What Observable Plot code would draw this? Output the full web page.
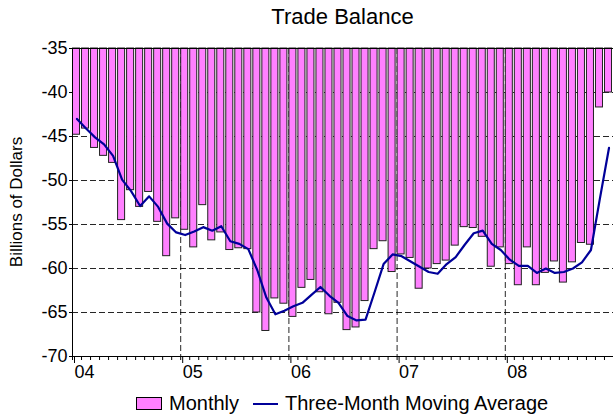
<!DOCTYPE html>
<html>
<head>
<meta charset="utf-8">
<script src="https://cdn.jsdelivr.net/npm/d3@7"></script>
<script src="https://cdn.jsdelivr.net/npm/@observablehq/plot@0.6"></script>
<style>
  html, body { margin: 0; padding: 0; background: #fff; }
  #wrap { position: relative; width: 613px; height: 416px; font-family: "Liberation Sans", Arial, sans-serif; }
  #title { position: absolute; left: 72px; width: 541px; top: 4px; text-align: center; font-size: 22px; color: #000; }
  #ylabel { position: absolute; left: 17px; top: 202px; transform: translate(-50%, -50%) rotate(-90deg); white-space: nowrap; font-size: 17px; color: #000; }
  #legend { position: absolute; left: 136px; top: 392px; display: flex; align-items: center; font-size: 20px; color: #000; white-space: nowrap; }
  .sw { display: inline-block; width: 24px; height: 11px; background: #ff80ff; border: 1px solid #000; margin-right: 7px; }
  .ln { display: inline-block; width: 25px; height: 2px; background: #000099; margin: 0 7px 0 14px; }
</style>
</head>
<body>
<div id="wrap">
  <div id="chart"></div>
  <div id="title">Trade Balance</div>
  <div id="ylabel">Billions of Dollars</div>
  <div id="legend"><span class="sw"></span><span>Monthly</span><span class="ln"></span><span>Three-Month Moving Average</span></div>
</div>
<script>
// Monthly trade balance, Jan 2004 .. Dec 2008 (billions of dollars)
const monthly = [
  -44.8, -44.1, -46.3, -47.2, -48.0, -54.5, -51.1, -53.0, -51.3, -54.7, -58.6, -54.3,
  -55.6, -57.6, -52.8, -56.8, -55.9, -57.9, -57.7, -57.8, -65.0, -67.1, -63.4, -64.0,
  -65.5, -62.2, -61.3, -62.7, -65.2, -63.9, -67.0, -66.7, -63.7, -57.8, -56.9, -60.4,
  -58.4, -58.8, -62.3, -60.0, -59.5, -59.1, -57.4, -55.3, -55.4, -56.4, -59.8, -57.6,
  -59.5, -61.9, -57.6, -61.9, -60.5, -59.2, -61.6, -59.3, -57.1, -57.3, -41.7, -40.0
];
// Three-month moving average
const movingAvg = [
  -43.0, -44.1, -45.1, -45.9, -47.2, -49.9, -51.2, -52.9, -51.8, -53.0, -54.9, -55.9,
  -56.2, -55.8, -55.3, -55.7, -55.2, -56.9, -57.2, -57.8, -60.2, -63.3, -65.2, -64.8,
  -64.3, -63.9, -63.0, -62.1, -63.1, -63.9, -65.4, -65.9, -65.8, -62.7, -59.5, -58.4,
  -58.6, -59.2, -59.8, -60.4, -60.6, -59.5, -58.7, -57.3, -56.0, -55.7, -57.2, -57.9,
  -59.0, -59.7, -59.7, -60.5, -60.0, -60.5, -60.4, -60.0, -59.3, -57.9, -52.0, -46.3
];
const yearLabels = ["04", "05", "06", "07", "08"];
const yTicks = [-35, -40, -45, -50, -55, -60, -65, -70];
const gridValues = [-40, -45, -50, -55, -60, -65];

const data = monthly.map((v, i) => ({i, v, ma: movingAvg[i]}));
const yearStarts = yearLabels.map((_, k) => k * 12);
const monthTicks = d3.range(0, monthly.length + 1);

const chart = Plot.plot({
  width: 613,
  height: 416,
  marginTop: 48,
  marginBottom: 60,
  marginLeft: 72,
  marginRight: 0,
  style: {fontFamily: "'Liberation Sans', Arial, sans-serif", fontSize: "18px", background: "#fff", color: "#000"},
  x: {domain: [0, monthly.length]},
  y: {domain: [-70, -35]},
  marks: [
    Plot.gridY(gridValues, {stroke: "#000", strokeOpacity: 0.85, strokeDasharray: "6,3"}),
    Plot.gridX(yearStarts.slice(1), {stroke: "#000", strokeOpacity: 0.85, strokeDasharray: "6,3"}),
    Plot.rectY(data, {x1: d => d.i, x2: d => d.i + 1, y1: -35, y2: "v", insetLeft: 0.5, insetRight: 1.5, fill: "#ff80ff", stroke: "#222", strokeWidth: 1}),
    Plot.lineY(data, {x: d => d.i + 0.5, y: "ma", stroke: "#000099", strokeWidth: 2.2}),
    Plot.ruleY([-35], {stroke: "#000"}),
    Plot.ruleY([-70], {stroke: "#000"}),
    Plot.ruleX([0], {stroke: "#000"}),
    Plot.axisY({ticks: yTicks, tickSize: 3, tickPadding: 2, tickFormat: d => String(d), label: null, fontSize: 18}),
    Plot.axisX({ticks: monthTicks, tickSize: 4, tickFormat: () => "", label: null}),
    Plot.axisX({ticks: yearStarts, tickSize: 7, tickPadding: 2, textAnchor: "start", dx: 2, tickFormat: d => yearLabels[d / 12], label: null, fontSize: 18})
  ]
});
document.getElementById("chart").appendChild(chart);
</script>
</body>
</html>
